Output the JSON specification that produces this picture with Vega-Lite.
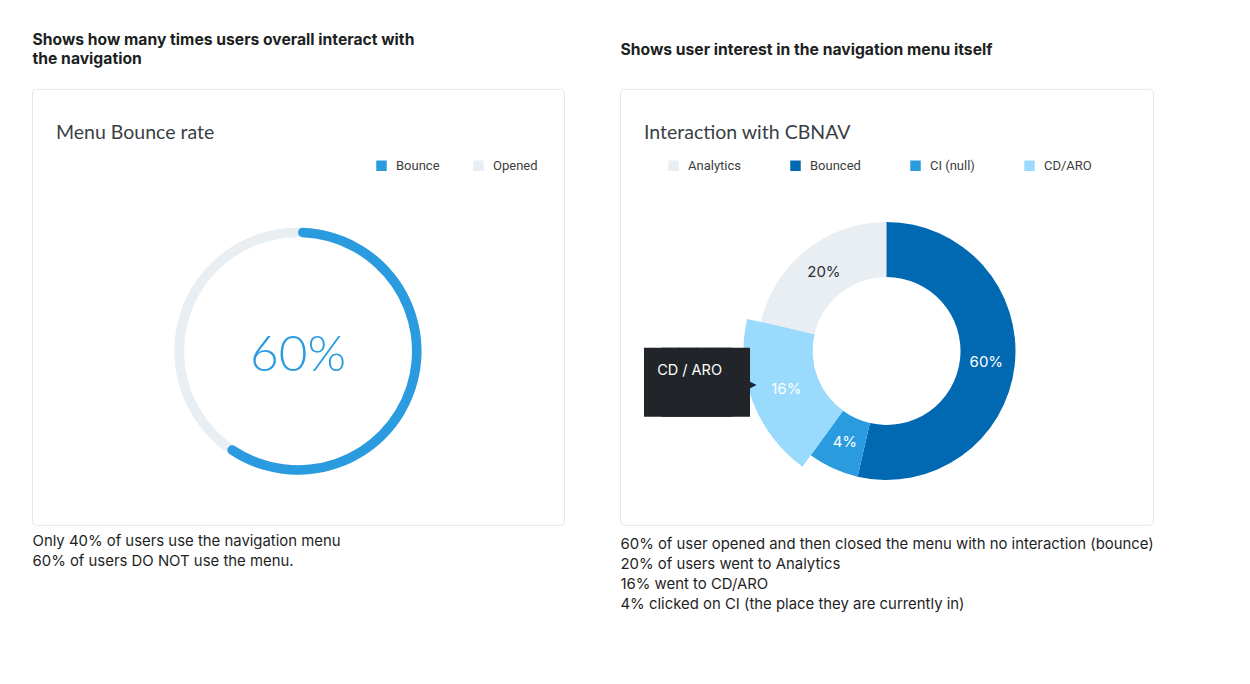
{
  "$schema": "https://vega.github.io/schema/vega-lite/v6.json",
  "background": "white",
  "padding": {"left": 31, "top": 31, "right": 10, "bottom": 10},
  "config": {
    "view": {"stroke": null},
    "font": "Inter",
    "legend": {
      "symbolType": "square",
      "symbolSize": 110,
      "symbolStrokeWidth": 0,
      "labelFont": "Roboto",
      "labelFontSize": 13,
      "labelColor": "#3d3d3d",
      "labelOffset": 8,
      "padding": 0,
      "title": null
    }
  },
  "resolve": {"scale": {"color": "independent"}, "legend": {"color": "independent"}},
  "spacing": 54,
  "hconcat": [
    {
      "spacing": 19.8,
      "vconcat": [
        {
          "width": 1,
          "height": 37,
          "data": {"values": [
            {"line": 1, "text": "Shows how many times users overall interact with"},
            {"line": 2, "text": "the navigation"}
          ]},
          "mark": {"type": "text", "align": "left", "baseline": "middle", "font": "Inter", "fontSize": 15.7, "fontWeight": 700, "color": "#1d1f23"},
          "encoding": {
            "y": {"field": "line", "type": "ordinal", "axis": null},
            "text": {"field": "text"}
          }
        },
        {
          "spacing": 6.7,
          "vconcat": [
            {
              "width": 532,
              "height": 436,
              "view": {"stroke": "#e6e6e6", "cornerRadius": 4, "fill": "white"},
              "title": {"text": "Menu Bounce rate", "anchor": "start", "font": "Lato", "fontSize": 19.5, "fontWeight": 400, "color": "#3a3f45", "offset": -54.4, "dx": 24},
              "data": {"values": [
                {"status": "Bounce", "value": 60, "label": "60%", "rank": 1},
                {"status": "Opened", "value": 40, "label": "40%", "rank": 2}
              ]},
              "layer": [
                {
                  "mark": {"type": "arc", "outerRadius": 123.5, "innerRadius": 114, "fill": "#e8eef1", "yOffset": 44.4},
                  "encoding": {
                    "theta": {"field": "value", "type": "quantitative", "stack": true},
                    "order": {"field": "rank"},
                    "detail": {"field": "status"}
                  }
                },
                {
                  "mark": {"type": "arc", "outerRadius": 123.5, "innerRadius": 114, "cornerRadius": 4.75, "yOffset": 44.4},
                  "encoding": {
                    "theta": {"field": "value", "type": "quantitative", "stack": true},
                    "order": {"field": "rank"},
                    "color": {
                      "field": "status", "type": "nominal",
                      "scale": {"domain": ["Bounce", "Opened"], "range": ["#2b9be0", "#e8eef1"]},
                      "legend": {"orient": "none", "legendX": 343, "legendY": 128, "direction": "horizontal", "columnPadding": 32}
                    }
                  }
                },
                {
                  "transform": [{"filter": "datum.status === 'Bounce'"}],
                  "mark": {"type": "text", "font": "Lato", "fontSize": 49.5, "fontWeight": 300, "color": "#2b9be0", "baseline": "middle", "yOffset": 49.2},
                  "encoding": {"text": {"field": "label"}}
                }
              ]
            },
            {
              "width": 1,
              "height": {"step": 19.5},
              "data": {"values": [
                {"line": 1, "text": "Only 40% of users use the navigation menu"},
                {"line": 2, "text": "60% of users DO NOT use the menu."}
              ]},
              "mark": {"type": "text", "align": "left", "baseline": "middle", "font": "Inter", "fontSize": 14.9, "color": "#1f1f1f"},
              "encoding": {
                "y": {"field": "line", "type": "ordinal", "axis": null},
                "text": {"field": "text"}
              }
            }
          ]
        }
      ]
    },
    {
      "spacing": 19.8,
      "vconcat": [
        {
          "width": 1,
          "height": 37,
          "data": {"values": [
            {"line": 1, "text": "Shows user interest in the navigation menu itself"}
          ]},
          "mark": {"type": "text", "align": "left", "baseline": "middle", "font": "Inter", "fontSize": 15.7, "fontWeight": 700, "color": "#1d1f23"},
          "encoding": {
            "y": {"field": "line", "type": "ordinal", "axis": null},
            "text": {"field": "text"}
          }
        },
        {
          "spacing": 9.5,
          "vconcat": [
            {
              "width": 533,
              "height": 436,
              "view": {"stroke": "#e6e6e6", "cornerRadius": 4, "fill": "white"},
              "title": {"text": "Interaction with CBNAV", "anchor": "start", "font": "Lato", "fontSize": 19.5, "fontWeight": 400, "color": "#3a3f45", "offset": -54.4, "dx": 24},
              "data": {"values": [
                {"cat": "Analytics", "value": 21.4, "label": "20%", "rank": 4},
                {"cat": "Bounced", "value": 53.6, "label": "60%", "rank": 1},
                {"cat": "CI (null)", "value": 6.4, "label": "4%", "rank": 2},
                {"cat": "CD/ARO", "value": 18.6, "label": "16%", "rank": 3}
              ]},
              "layer": [
                {
                  "mark": {"type": "arc", "outerRadius": 129, "innerRadius": 74, "yOffset": 44.2},
                  "encoding": {
                    "theta": {"field": "value", "type": "quantitative", "stack": true},
                    "order": {"field": "rank"},
                    "color": {
                      "field": "cat", "type": "nominal",
                      "scale": {"domain": ["Analytics", "Bounced", "CI (null)", "CD/ARO"], "range": ["#e8eef1", "#0169b1", "#2b9be0", "#99dafd"]},
                      "legend": {"orient": "none", "legendX": 47, "legendY": 128, "direction": "horizontal", "columnPadding": 48}
                    }
                  }
                },
                {
                  "mark": {"type": "arc", "outerRadius": 143, "innerRadius": 74, "yOffset": 44.2},
                  "encoding": {
                    "theta": {"field": "value", "type": "quantitative", "stack": true},
                    "order": {"field": "rank"},
                    "color": {"field": "cat", "type": "nominal"},
                    "opacity": {"condition": {"test": "datum.cat === 'CD/ARO'", "value": 1}, "value": 0}
                  }
                },
                {
                  "mark": {"type": "text", "radius": 100.5, "font": "Inter", "fontSize": 15, "baseline": "middle", "yOffset": 44.2},
                  "encoding": {
                    "theta": {"field": "value", "type": "quantitative", "stack": true},
                    "order": {"field": "rank"},
                    "detail": {"field": "cat"},
                    "text": {"field": "label"},
                    "color": {"condition": {"test": "datum.cat === 'Analytics'", "value": "#2b2f33"}, "value": "white"},
                    "opacity": {"condition": {"test": "datum.cat !== 'CD/ARO'", "value": 1}, "value": 0}
                  }
                },
                {
                  "mark": {"type": "text", "radius": 107, "font": "Inter", "fontSize": 15, "baseline": "middle", "color": "white", "yOffset": 44.2},
                  "encoding": {
                    "theta": {"field": "value", "type": "quantitative", "stack": true},
                    "order": {"field": "rank"},
                    "detail": {"field": "cat"},
                    "text": {"field": "label"},
                    "opacity": {"condition": {"test": "datum.cat === 'CD/ARO'", "value": 1}, "value": 0}
                  }
                },
                {
                  "mark": {"type": "text", "radius": 192, "font": "DejaVu Sans Mono", "fontSize": 58, "align": "center", "baseline": "middle", "color": "#212529", "dx": -9.5, "dy": -33.7, "yOffset": 44.2, "text": "███"},
                  "encoding": {
                    "theta": {"field": "value", "type": "quantitative", "stack": true},
                    "order": {"field": "rank"},
                    "detail": {"field": "cat"},
                    "opacity": {"condition": {"test": "datum.cat === 'CD/ARO'", "value": 1}, "value": 0}
                  }
                },
                {
                  "mark": {"type": "text", "radius": 192, "font": "DejaVu Sans Mono", "fontSize": 58, "align": "center", "baseline": "middle", "color": "#212529", "dx": -9.5, "dy": -33.7, "yOffset": 44.2, "text": "██"},
                  "encoding": {
                    "theta": {"field": "value", "type": "quantitative", "stack": true},
                    "order": {"field": "rank"},
                    "detail": {"field": "cat"},
                    "opacity": {"condition": {"test": "datum.cat === 'CD/ARO'", "value": 1}, "value": 0}
                  }
                },
                {
                  "mark": {"type": "text", "radius": 192, "font": "DejaVu Sans", "fontSize": 15, "align": "right", "baseline": "middle", "color": "#212529", "dx": 49.8, "dy": -34.7, "yOffset": 44.2, "text": "▶"},
                  "encoding": {
                    "theta": {"field": "value", "type": "quantitative", "stack": true},
                    "order": {"field": "rank"},
                    "detail": {"field": "cat"},
                    "opacity": {"condition": {"test": "datum.cat === 'CD/ARO'", "value": 1}, "value": 0}
                  }
                },
                {
                  "mark": {"type": "text", "radius": 192, "font": "Inter", "fontSize": 14.5, "align": "left", "baseline": "middle", "color": "white", "dx": -49.5, "dy": -47.2, "yOffset": 44.2, "text": "CD / ARO"},
                  "encoding": {
                    "theta": {"field": "value", "type": "quantitative", "stack": true},
                    "order": {"field": "rank"},
                    "detail": {"field": "cat"},
                    "opacity": {"condition": {"test": "datum.cat === 'CD/ARO'", "value": 1}, "value": 0}
                  }
                }
              ]
            },
            {
              "width": 1,
              "height": {"step": 19.8},
              "data": {"values": [
                {"line": 1, "text": "60% of user opened and then closed the menu with no interaction (bounce)"},
                {"line": 2, "text": "20% of users went to Analytics"},
                {"line": 3, "text": "16% went to CD/ARO"},
                {"line": 4, "text": "4% clicked on CI (the place they are currently in)"}
              ]},
              "mark": {"type": "text", "align": "left", "baseline": "middle", "font": "Inter", "fontSize": 14.9, "color": "#1f1f1f"},
              "encoding": {
                "y": {"field": "line", "type": "ordinal", "axis": null},
                "text": {"field": "text"}
              }
            }
          ]
        }
      ]
    }
  ]
}
